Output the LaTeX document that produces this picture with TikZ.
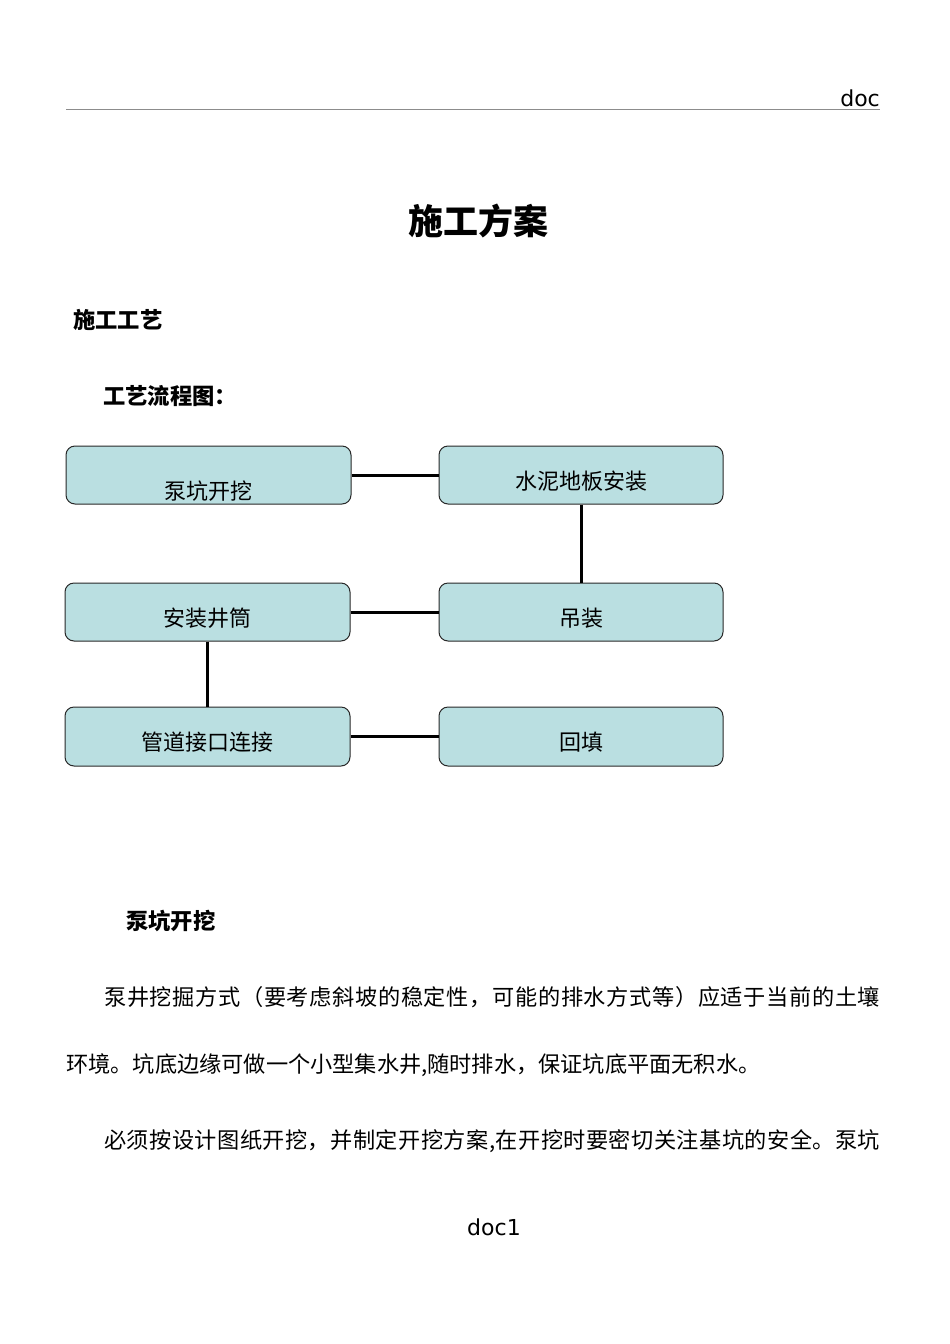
\documentclass[tikz,border=0pt]{standalone}
\usepackage{fontspec}
\setmainfont{DejaVu Sans}
\newfontfamily\cjk{Noto Sans CJK SC}
\definecolor{boxfill}{RGB}{186,223,225}
\definecolor{boxline}{RGB}{40,40,40}
\definecolor{rulegray}{RGB}{140,140,140}
\def\spr#1{\ifx#1\relax\else#1\hfil\expandafter\spr\fi}
\tikzset{
  stepbox/.style={draw=boxline, fill=boxfill, line width=1pt, rounded corners=9pt,
    minimum width=284pt, minimum height=58pt, inner sep=0pt},
  boxtext/.style={anchor=base, inner sep=0pt, font=\cjk\fontsize{22}{26}\selectfont},
  bodytext/.style={anchor=base west, inner sep=0pt, font=\cjk\fontsize{22.2}{26}\selectfont},
  headtext/.style={anchor=base west, inner sep=0pt, font=\cjk\bfseries\fontsize{22.3}{26}\selectfont},
  link/.style={line width=3pt, draw=black},
  latin/.style={inner sep=0pt, font=\fontsize{22}{26}\selectfont}
}
\begin{document}
\begin{tikzpicture}[x=1pt,y=-1pt]
\useasboundingbox (0,0) rectangle (950,1344);
% header
\node[latin, anchor=base east] (hdr) at (880,106) {doc};
\coordinate (rl) at (66,109);
\coordinate (rr) at (880,109);
\draw[rulegray, line width=1pt] (rl) -- (rr);
% title
\node[anchor=base, inner sep=0pt, font=\cjk\bfseries\fontsize{35}{40}\selectfont] (title) at (478,234) {施工方案};
\node[headtext] (h1) at (73,328.5) {施工工艺};
\node[headtext] (h2) at (103,404.5) {工艺流程图：};
% boxes
\node[stepbox, minimum width=285pt] (b1) at (208.5,475) {};
\node[stepbox] (b2) at (581,475) {};
\node[stepbox] (b3) at (581,612) {};
\node[stepbox, minimum width=285pt] (b4) at (207.5,612) {};
\node[stepbox, minimum width=285pt, minimum height=59pt] (b5) at (207.5,736.5) {};
\node[stepbox, minimum height=59pt] (b6) at (581,736.5) {};
\node[boxtext] (t1) at (208.5,499.5) {泵坑开挖};
\node[boxtext] (t2) at (581,489.5) {水泥地板安装};
\node[boxtext] (t3) at (581,626.5) {吊装};
\node[boxtext] (t4) at (207.5,626.5) {安装井筒};
\node[boxtext] (t5) at (207.5,750.5) {管道接口连接};
\node[boxtext] (t6) at (581,750.5) {回填};
% connectors
\draw[link] (b1) -- (b2);
\draw[link] (b2) -- (b3);
\draw[link] (b4) -- (b3);
\draw[link] (b4) -- (b5);
\draw[link] (b5) -- (b6);
% section
\node[headtext] (h3) at (126,929.5) {泵坑开挖};
\node[bodytext] (p1) at (104,1005.5) {\makebox[776pt][s]{\spr 泵井挖掘方式（要考虑斜坡的稳定性，可能的排水方式等）应适于当前的土壤\relax\unskip}};
\node[bodytext] (p2) at (66,1072) {环境。坑底边缘可做一个小型集水井,随时排水，保证坑底平面无积水。};
\node[bodytext] (p3) at (104,1148) {\makebox[776pt][s]{\spr 必须按设计图纸开挖，并制定开挖方案,在开挖时要密切关注基坑的安全。泵坑\relax\unskip}};
% footer
\node[latin, anchor=base] (ftr) at (494,1235) {doc1};
\end{tikzpicture}
\end{document}
